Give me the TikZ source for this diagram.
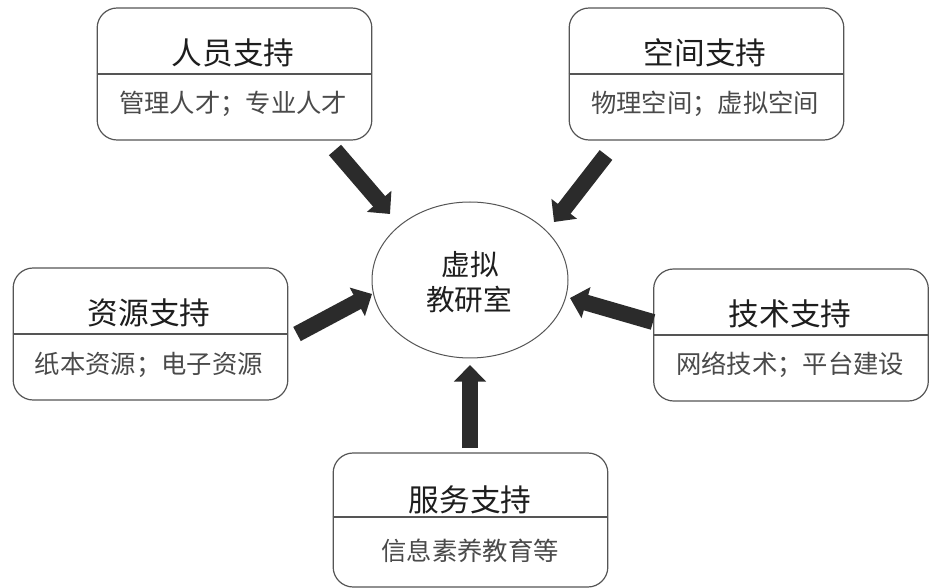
\documentclass[tikz,border=0pt]{standalone}
\usepackage{fontspec}
\newfontfamily\cjk{Noto Sans CJK SC}
\usetikzlibrary{arrows.meta,shapes.geometric}
\definecolor{boxline}{HTML}{555555}
\definecolor{arrowcol}{HTML}{2B2B2B}
\definecolor{titlecol}{HTML}{1E1E1E}
\definecolor{subcol}{HTML}{4A4A4A}
\tikzset{
  supbox/.style={draw=boxline, line width=0.9pt, rounded corners=15pt,
    minimum width=206pt, minimum height=99pt, inner sep=0pt},
  divline/.style={draw=boxline, line width=0.8pt},
  titletext/.style={font=\cjk\fontsize{23}{27}\selectfont, text=titlecol, inner sep=0pt},
  subtext/.style={font=\cjk\fontsize{19}{23}\selectfont, text=subcol, inner sep=0pt},
  centertext/.style={font=\cjk\fontsize{21.5}{26}\selectfont, text=titlecol, align=center, inner sep=0pt},
  bigarrow/.style={draw=arrowcol, line width=12pt, line cap=butt,
    -{Triangle[length=12.5pt, width=23.5pt, fill=arrowcol]}},
}
\begin{document}
\begin{tikzpicture}[x=0.75pt, y=-0.75pt]
\useasboundingbox (0,0) rectangle (933,588);
\fill[white] (0,0) rectangle (933,588);

% centre ellipse
\node[ellipse, draw=boxline, line width=0.75pt, minimum width=147pt, minimum height=117pt, inner sep=0pt] (c) at (470,280) {};
\node[centertext] (ct1) at (470,265) {虚拟};
\node[centertext] (ct2) at (469,300) {教研室};

% boxes
\node[supbox] (b1) at (234.5,74) {};
\draw[divline] (b1.west) -- (b1.east);
\node[titletext] (t1) at (233,53) {人员支持};
\node[subtext] (s1) at (233,104) {管理人才；专业人才};

\node[supbox] (b2) at (706.5,74) {};
\draw[divline] (b2.west) -- (b2.east);
\node[titletext] (t2) at (705,53) {空间支持};
\node[subtext] (s2) at (705,104) {物理空间；虚拟空间};

\node[supbox] (b3) at (150.5,334) {};
\draw[divline] (b3.west) -- (b3.east);
\node[titletext] (t3) at (149,313) {资源支持};
\node[subtext] (s3) at (149,365) {纸本资源；电子资源};

\node[supbox] (b4) at (791,335) {};
\draw[divline] (b4.west) -- (b4.east);
\node[titletext] (t4) at (790,314) {技术支持};
\node[subtext] (s4) at (790,365) {网络技术；平台建设};

\node[supbox, minimum height=100.5pt] (b5) at (470.5,520) {};
\draw[divline] ([yshift=2.25pt]b5.west) -- ([yshift=2.25pt]b5.east);
\node[titletext] (t5) at (470,500) {服务支持};
\node[subtext] (s5) at (470,551) {信息素养教育等};

% arrow end points
\coordinate (a1s) at (335,150);
\coordinate (a1e) at (390,214);
\coordinate (a2s) at (606,155);
\coordinate (a2e) at (554,222);
\coordinate (a3s) at (297,334);
\coordinate (a3e) at (372,294);
\coordinate (a4s) at (653,322);
\coordinate (a4e) at (570,298);
\coordinate (a5s) at (470,448);
\coordinate (a5e) at (470,365);

\draw[bigarrow] (a1s) -- (a1e);
\draw[bigarrow] (a2s) -- (a2e);
\draw[bigarrow] (a3s) -- (a3e);
\draw[bigarrow] (a4s) -- (a4e);
\draw[bigarrow] (a5s) -- (a5e);
\end{tikzpicture}
\end{document}
